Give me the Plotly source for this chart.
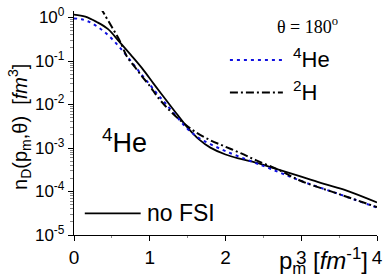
import plotly.graph_objects as go

# ---- data ----
x_nofsi = [0, 0.15, 0.3, 0.45, 0.6, 0.75, 0.9, 1.05, 1.2, 1.35, 1.5, 1.65, 1.8, 2.0, 2.2, 2.4, 2.7, 3.0, 3.3, 3.6, 4.0]
y_nofsi = [1.17, 1.05, 0.79, 0.54, 0.275, 0.138, 0.0676, 0.0302, 0.0138, 6.3e-3, 2.95e-3, 1.58e-3,
           1.02e-3, 7.1e-4, 5.6e-4, 4.6e-4, 3.2e-4, 2.2e-4, 1.5e-4, 1.05e-4, 5.6e-5]

x_he4 = [0, 0.1, 0.2, 0.3, 0.4, 0.5, 0.6, 0.7, 0.8, 0.9, 1.0, 1.1, 1.2, 1.35, 1.5, 1.65, 1.8, 2.0, 2.3, 2.6, 3.0, 3.5, 4.0]
y_he4 = [0.955, 0.912, 0.794, 0.631, 0.468, 0.324, 0.209, 0.129, 0.0776, 0.0468, 0.0288, 0.0174, 0.011,
         5.4e-3, 2.75e-3, 1.7e-3, 1.23e-3, 8.5e-4, 5.25e-4, 3.3e-4, 1.74e-4, 8.7e-5, 4.27e-5]

x_h2 = [0.35, 0.4, 0.5, 0.6, 0.7, 0.8, 0.9, 1.0, 1.1, 1.2, 1.3, 1.45, 1.6, 1.8, 2.0, 2.2, 2.4, 2.7, 3.0, 3.5, 4.0]
y_h2 = [1.70, 1.20, 0.603, 0.302, 0.126, 0.0741, 0.0437, 0.0269, 0.0151, 9.5e-3, 6.3e-3, 3.7e-3, 2.35e-3,
        1.51e-3, 1.07e-3, 7.6e-4, 5.25e-4, 3.16e-4, 1.74e-4, 8.7e-5, 4.37e-5]

x_ticks = [0, 1, 2, 3, 4]
y_tickvals = [1, 0.1, 0.01, 1e-3, 1e-4, 1e-5]
y_ticktext = ["10<sup>0</sup>", "10<sup>-1</sup>", "10<sup>-2</sup>", "10<sup>-3</sup>", "10<sup>-4</sup>", "10<sup>-5</sup>"]

FONT = "Liberation Sans, Arial, sans-serif"
DOT = "3px,4px"
DASHDOT = "8px,3px,2px,3px"

fig = go.Figure()
fig.add_trace(go.Scatter(x=x_nofsi, y=y_nofsi, mode="lines", line=dict(color="black", width=1.8, shape="spline"),
                         name="no FSI", showlegend=False))
fig.add_trace(go.Scatter(x=x_he4, y=y_he4, mode="lines", line=dict(color="#1010e0", width=2, dash=DOT, shape="spline"),
                         name="4He", showlegend=False))
fig.add_trace(go.Scatter(x=x_h2, y=y_h2, mode="lines",
                         line=dict(color="black", width=2, dash=DASHDOT, shape="spline"),
                         name="2H", showlegend=False))

fig.update_xaxes(range=[0, 4], tickvals=x_ticks, ticktext=[str(v) for v in x_ticks],
                 showgrid=False, zeroline=False, showline=True, linecolor="black", linewidth=1.3,
                 ticks="outside", ticklen=5, tickcolor="black", ticklabeloverflow="allow",
                 minor=dict(ticks="outside", ticklen=2, tickcolor="#888", dtick=0.5),
                 tickfont=dict(family=FONT, size=19, color="black"))
fig.update_yaxes(type="log", range=[-5, 0.15], tickvals=y_tickvals, ticktext=y_ticktext,
                 showgrid=False, zeroline=False, showline=True, linecolor="black", linewidth=1.3,
                 ticks="outside", ticklen=5, tickcolor="black", ticklabeloverflow="allow",
                 minor=dict(ticks="outside", ticklen=3, tickcolor="#888", dtick="D1"),
                 tickfont=dict(family=FONT, size=17, color="black"))

def px(x):
    return (x - 74) / 309.0

def py(y):
    return (235 - y) / 228.0

shapes = [
    dict(type="line", xref="paper", yref="paper", x0=px(233), x1=px(290), y0=py(57), y1=py(57),
         line=dict(color="#1010e0", width=2, dash=DOT)),
    dict(type="line", xref="paper", yref="paper", x0=px(233), x1=px(287), y0=py(90), y1=py(90),
         line=dict(color="black", width=2, dash=DASHDOT)),
    dict(type="line", xref="paper", yref="paper", x0=px(85), x1=px(142), y0=py(213), y1=py(213),
         line=dict(color="black", width=1.8)),
]

def ann(text, x, y, size, xanchor="center", family=FONT, angle=0):
    return dict(text=text, x=px(x), y=py(y), xref="paper", yref="paper", showarrow=False,
                xanchor=xanchor, yanchor="middle", textangle=angle,
                font=dict(family=family, size=size, color="black"))

annotations = [
    ann("θ = 180<sup>o</sup>", 312, 22, 18, family="Liberation Serif, Times New Roman, serif"),
    ann("<sup>4</sup>He", 295, 55, 22, xanchor="left"),
    ann("<sup>2</sup>H", 295, 88, 22, xanchor="left"),
    ann("no FSI", 146, 213, 23, xanchor="left"),
    ann("<sup>4</sup>He", 126, 139, 27),
    ann("p<sub>m</sub> [<i>fm</i><sup>-1</sup>]", 281, 261, 24, xanchor="left"),
    ann("n<sub>D</sub>(p<sub>m</sub>,θ)  [<i>fm</i><sup>3</sup>]", 19, 125, 20, angle=-90),
]

fig.update_layout(width=388, height=278, margin=dict(l=74, r=5, t=7, b=43),
                  plot_bgcolor="white", paper_bgcolor="white", showlegend=False,
                  shapes=shapes, annotations=annotations)

fig.write_html("out.html", config={"displayModeBar": False},
               post_script="document.body.style.margin='0';")
